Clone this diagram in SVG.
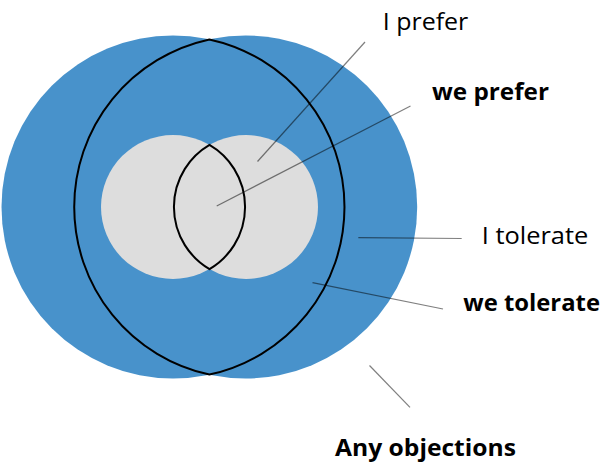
<svg xmlns="http://www.w3.org/2000/svg" width="610" height="471" viewBox="0 0 610 471">
  <style>
    .blue { fill: #4892cb; }
    .grey { fill: #dddddd; }
    .lens { fill: none; stroke: #000; stroke-width: 2; stroke-linejoin: miter; }
    .leader { stroke: #000; stroke-opacity: 0.5; stroke-width: 1.2; fill: none; }
    .lbl { font-family: "Open Sans", "Liberation Sans", sans-serif; font-size: 23.5px; fill: #000; }
    .b { font-weight: 700; }
  </style>
  <rect width="610" height="471" fill="#ffffff"/>
  <g id="tolerate-sets">
    <circle class="blue" cx="173" cy="207" r="171.5"/>
    <circle class="blue" cx="245.7" cy="207" r="171.5"/>
  </g>
  <g id="prefer-sets">
    <circle class="grey" cx="173" cy="207" r="72"/>
    <circle class="grey" cx="246" cy="207" r="72"/>
  </g>
  <g id="we-tolerate-lens">
    <path class="lens" d="M209.35,39.4 A171.5,171.5 0 0,0 209.35,374.6 A171.5,171.5 0 0,0 209.35,39.4 Z"/>
  </g>
  <g id="we-prefer-lens">
    <path class="lens" d="M209.5,144.9 A72,72 0 0,0 209.5,269.1 A72,72 0 0,0 209.5,144.9 Z"/>
  </g>
  <g id="connectors">
    <line class="leader" x1="365" y1="42" x2="257.5" y2="161.5"/>
    <line class="leader" x1="410.5" y1="106" x2="216.7" y2="206"/>
    <line class="leader" x1="358.3" y1="237.7" x2="461.7" y2="238.5"/>
    <line class="leader" x1="312.5" y1="282.7" x2="443" y2="309"/>
    <line class="leader" x1="369.5" y1="365.5" x2="410" y2="407.3"/>
  </g>
  <g id="label-i-prefer">
    <text class="lbl" x="382.7" y="30" textLength="85.6" lengthAdjust="spacingAndGlyphs">I prefer</text>
  </g>
  <g id="label-we-prefer">
    <text class="lbl b" x="432" y="100" textLength="117" lengthAdjust="spacingAndGlyphs">we prefer</text>
  </g>
  <g id="label-i-tolerate">
    <text class="lbl" x="481.7" y="244.3" textLength="106.6" lengthAdjust="spacingAndGlyphs">I tolerate</text>
  </g>
  <g id="label-we-tolerate">
    <text class="lbl b" x="463.3" y="310.7" textLength="136.7" lengthAdjust="spacingAndGlyphs">we tolerate</text>
  </g>
  <g id="label-any-objections">
    <text class="lbl b" x="335" y="456" textLength="181" lengthAdjust="spacingAndGlyphs">Any objections</text>
  </g>
</svg>
